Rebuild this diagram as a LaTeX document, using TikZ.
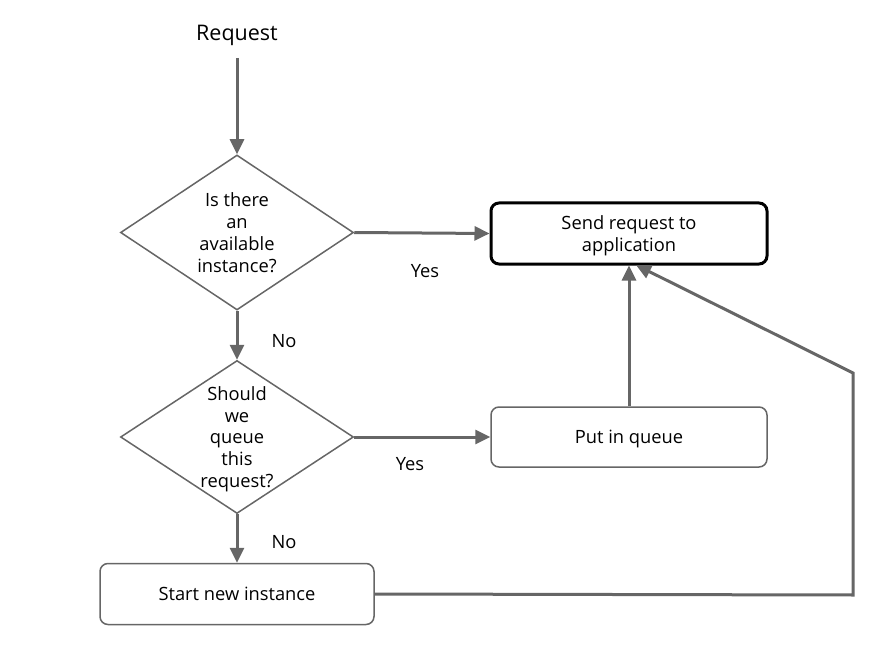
\documentclass[tikz,border=0pt]{standalone}
\usepackage{fontspec}
\setmainfont{Open Sans}
\usetikzlibrary{shapes.geometric,arrows.meta}
\tikzset{
    txt/.style={font=\fontsize{18.3}{21.7}\selectfont,align=center,inner sep=0pt,text depth=0pt},
    decision/.style={txt,draw=black!60,line width=1.5pt,diamond,aspect=1.5,minimum width=233pt,minimum height=155pt},
    stepbox/.style={txt,draw=black!60,line width=1.5pt,rounded corners=8pt,minimum width=275pt,minimum height=60pt},
    flow/.style={draw=black!60,line width=3pt,-{Triangle[length=15pt,width=14pt]}}
}
\begin{document}
\begin{tikzpicture}[x=1pt,y=-1pt]
\useasboundingbox (0,0) rectangle (895,658);
\node (request) at (237,33)[txt,font=\fontsize{21.5}{24}\selectfont]{Request};
\node (avail) at (237,232.5)[decision]{Is there\\an\\available\\instance?};
\node (queueq) at (237,437)[decision,minimum height=153pt]{Should\\we\\queue\\this\\request?};
\node (send) at (629,233.5)[stepbox,draw=black,line width=3pt,minimum width=276pt,minimum height=61pt]{Send request to\\application};
\node (putq) at (629,437)[stepbox,minimum width=276pt]{Put in queue};
\node (start) at (237,594)[stepbox,minimum width=274pt,minimum height=61pt]{Start new instance};
\coordinate (top) at (237,58);
\coordinate (corner) at (853,595);
\coordinate (bend) at (853,373);
\coordinate (sendin) at (636,265);
\draw[flow] (top)--(avail.north);
\draw[flow] (avail.east)--(send.west);
\draw[flow] (avail.south)--(queueq.north);
\draw[flow] (queueq.east)--(putq.west);
\draw[flow] (queueq.south)--(start.north);
\draw[flow] (putq.north)--(send.south);
\draw[flow] (start.east)--(corner)--(bend)--(sendin);
\foreach \x/\y/\lbl in {425/271/Yes,284/341/No,410/464/Yes,284/542/No}
{
    \node at (\x,\y)[txt]{\lbl};
}
\end{tikzpicture}
\end{document}
